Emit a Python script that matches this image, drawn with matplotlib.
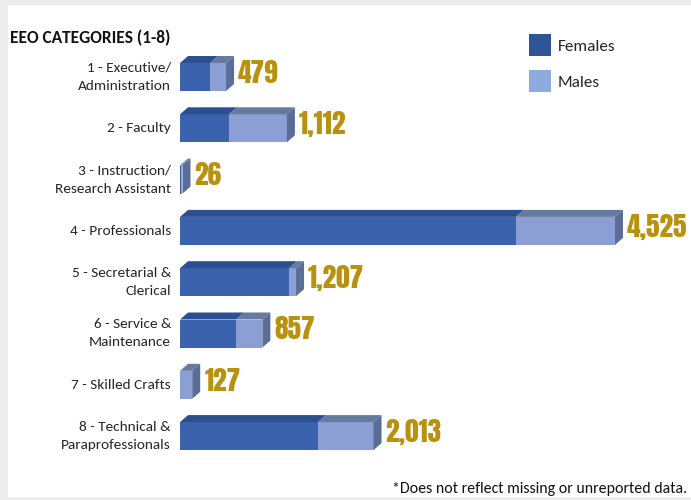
import matplotlib
matplotlib.use("Agg")
import matplotlib.pyplot as plt
from matplotlib.patches import Patch, Polygon, Rectangle

categories = ["1 - Executive/\nAdministration", "2 - Faculty", "3 - Instruction/\nResearch Assistant",
              "4 - Professionals", "5 - Secretarial &\nClerical", "6 - Service &\nMaintenance",
              "7 - Skilled Crafts", "8 - Technical &\nParaprofessionals"]
females = [312, 510, 10, 3495, 1134, 583, 4, 1436]
males = [167, 602, 16, 1030, 73, 274, 123, 577]
value_labels = ["479", "1,112", "26", "4,525", "1,207", "857", "127", "2,013"]

FEMALE_FRONT = "#3a62ad"
FEMALE_TOP = "#2b4f8f"
MALE_FRONT = "#8c9fd4"
MALE_TOP = "#66799f"
SIDE = "#5a6d99"
GOLD = "#b8920f"
TEXT = "#262626"

W, H = 691, 500
PX_PER_UNIT = 435 / 4525
ROW_PX = 51.3
DX = 8 / PX_PER_UNIT
DY = 7 / ROW_PX
BAR_H = 28 / ROW_PX

plt.rcParams["font.family"] = ["Carlito", "Open Sans", "DejaVu Sans"]

fig = plt.figure(figsize=(W / 100, H / 100), dpi=100, facecolor="#ececec")
fig.patches.append(Rectangle((8 / W, 3 / H), 683 / W, 492 / H, transform=fig.transFigure,
                             facecolor="white", edgecolor="none", zorder=-1))

ax = fig.add_axes([180 / W, 0, 511 / W, 1])
ax.patch.set_alpha(0)
ax.set_xlim(0, 511 / PX_PER_UNIT)
ax.set_ylim((500 - 77) / ROW_PX, -77 / ROW_PX)
for s in ax.spines.values():
    s.set_visible(False)

ypos = list(range(len(categories)))
ax.barh(ypos, females, height=BAR_H, color=FEMALE_FRONT, linewidth=0)
ax.barh(ypos, males, height=BAR_H, left=females, color=MALE_FRONT, linewidth=0)

# 3d effect: top faces and right side
for y, f, m, lab in zip(ypos, females, males, value_labels):
    top = y - BAR_H / 2
    bottom = y + BAR_H / 2
    total = f + m
    ax.add_patch(Polygon([(0, top), (DX, top - DY), (f + DX, top - DY), (f, top)],
                         facecolor=FEMALE_TOP, linewidth=0))
    ax.add_patch(Polygon([(f, top), (f + DX, top - DY), (total + DX, top - DY), (total, top)],
                         facecolor=MALE_TOP, linewidth=0))
    ax.add_patch(Polygon([(total, top), (total + DX, top - DY), (total + DX, bottom - DY), (total, bottom)],
                         facecolor=SIDE, linewidth=0))
    ax.text(total + DX + 4 / PX_PER_UNIT, y - 0.08, lab, color=GOLD, fontsize=19.7,
            family=["Anton", "Oswald", "DejaVu Sans"], ha="left", va="center")

ax.set_xticks([])
ax.set_yticks(ypos)
ax.set_yticklabels(categories, fontsize=11, color=TEXT, linespacing=1.6, ha="right", va="center")
ax.tick_params(axis="y", length=0, pad=6.5)

fig.text(10 / W, 1 - 38 / H, "EEO CATEGORIES (1-8)", fontsize=12.5, fontweight="bold", color="#111111",
         ha="left", va="center")
fig.text(687 / W, 1 - 489 / H, "*Does not reflect missing or unreported data.", fontsize=11.4, color="#111111",
         ha="right", va="center")

handles = [Patch(facecolor="#2f5597", label="Females"), Patch(facecolor="#8faadc", label="Males")]
fig.legend(handles=handles, loc="upper left", bbox_to_anchor=(529 / W, 1 - 34 / H), frameon=False,
           fontsize=12.3, handlelength=1.3, handleheight=1.61, handletextpad=0.38, labelspacing=0.84,
           borderpad=0, borderaxespad=0, labelcolor=TEXT)

fig.savefig("out.png", dpi=100, facecolor=fig.get_facecolor())
